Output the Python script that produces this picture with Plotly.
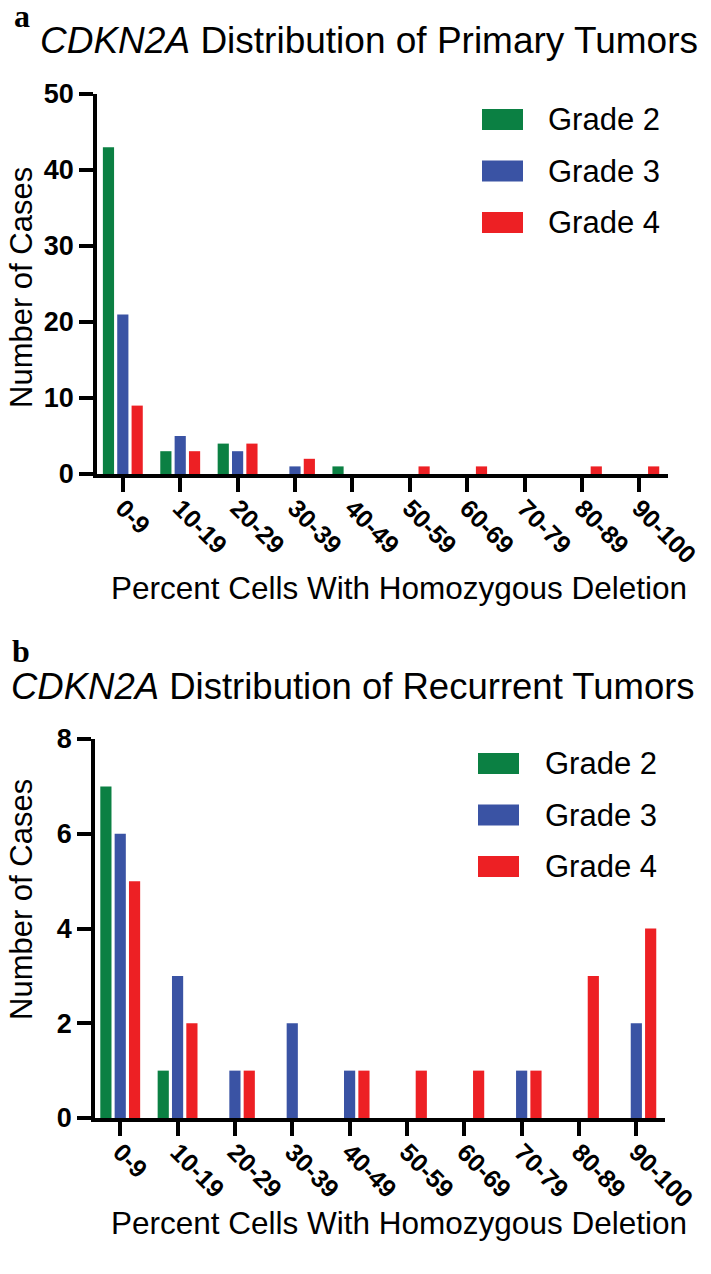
import plotly.graph_objects as go

# the page body adds an 8px margin, so the figure is drawn 8px smaller
# and every screen position below is shifted by OFF
OFF = 8
W, H = 711 - OFF, 1274 - OFF

categories = ["0-9", "10-19", "20-29", "30-39", "40-49",
              "50-59", "60-69", "70-79", "80-89", "90-100"]
grades = ["Grade 2", "Grade 3", "Grade 4"]
colors = ["#0b8043", "#3a53a4", "#ed2024"]

# primary tumors
primary_g2 = [43, 3, 4, 0, 1, 0, 0, 0, 0, 0]
primary_g3 = [21, 5, 3, 1, 0, 0, 0, 0, 0, 0]
primary_g4 = [9, 3, 4, 2, 0, 1, 1, 0, 1, 1]

# recurrent tumors
recurrent_g2 = [7, 1, 0, 0, 0, 0, 0, 0, 0, 0]
recurrent_g3 = [6, 3, 1, 2, 1, 0, 0, 1, 0, 2]
recurrent_g4 = [5, 2, 1, 0, 1, 1, 1, 1, 3, 4]

FONT = "Liberation Sans, Arial, sans-serif"
SERIF = "Liberation Serif, Times New Roman, serif"


def px(x):
    return (x - OFF) / W


def py(y):
    return 1 - (y - OFF) / H


fig = go.Figure()

panels = [
    ("x", "y", [primary_g2, primary_g3, primary_g4]),
    ("x2", "y2", [recurrent_g2, recurrent_g3, recurrent_g4]),
]
for xa, ya, series in panels:
    for name, col, vals in zip(grades, colors, series):
        fig.add_trace(go.Bar(
            x=categories, y=vals, name=name, xaxis=xa, yaxis=ya,
            marker=dict(color=col, line=dict(width=0)),
            showlegend=False,
        ))

axis_common = dict(
    showline=True, linecolor="black", linewidth=3.5,
    ticks="outside", tickcolor="black", tickwidth=3.5, ticklen=14,
    showgrid=False, zeroline=False, automargin=False,
)
xtick_font = dict(family=FONT, size=25, color="black", weight="bold")
ytick_font = dict(family=FONT, size=27, color="black", weight="bold")

fig.update_layout(
    width=W, height=H,
    margin=dict(l=0, r=0, t=0, b=0),
    plot_bgcolor="white", paper_bgcolor="white",
    barmode="group", bargap=0.25, bargroupgap=0.22,
    showlegend=False,
    xaxis=dict(**axis_common, domain=[px(97), px(668)], anchor="y",
               range=[-0.45, 9.5], tickangle=45, tickfont=xtick_font,
               ticklabelstandoff=-8),
    yaxis=dict(**axis_common, domain=[py(474), py(94)], anchor="x",
               range=[0, 50], tickvals=[0, 10, 20, 30, 40, 50], tickfont=ytick_font),
    xaxis2=dict(**axis_common, domain=[px(95), px(665)], anchor="y2",
                range=[-0.44, 9.5], tickangle=45, tickfont=xtick_font,
                ticklabelstandoff=-8),
    yaxis2=dict(**axis_common, domain=[py(1118), py(739)], anchor="x2",
                range=[0, 8], tickvals=[0, 2, 4, 6, 8], tickfont=ytick_font),
)

annotations = []
shapes = []


def text(x, y, s, size, xanchor="left", angle=0, family=FONT, yanchor="middle"):
    annotations.append(dict(
        x=px(x), y=py(y), xref="paper", yref="paper", text=s,
        showarrow=False, xanchor=xanchor, yanchor=yanchor, textangle=angle,
        font=dict(family=family, size=size, color="black"),
    ))


# panel letters and titles
text(12, -4, "<b>a</b>", 32, family=SERIF, yanchor="top")
text(38, 41, "<i>CDKN2A</i> Distribution of Primary Tumors", 37)
text(10, 651, "<b>b</b>", 32, family=SERIF)
text(9, 686, "<i>CDKN2A</i> Distribution of Recurrent Tumors", 36.5)

# axis titles
text(21, 288, "Number of Cases", 31, xanchor="center", angle=-90)
text(21, 900, "Number of Cases", 31, xanchor="center", angle=-90)
text(399, 588, "Percent Cells With Homozygous Deletion", 31.5, xanchor="center")
text(399, 1223, "Percent Cells With Homozygous Deletion", 31.5, xanchor="center")

# legends
for top, sx, tx in [(119.5, 482, 546), (763.5, 478, 543)]:
    for i, (name, col) in enumerate(zip(grades, colors)):
        cy = top + i * 51.5
        shapes.append(dict(type="rect", xref="paper", yref="paper",
                           x0=px(sx), x1=px(sx + 41), y0=py(cy + 10.5), y1=py(cy - 10.5),
                           fillcolor=col, line=dict(width=0)))
        text(tx, cy, name, 31)

fig.update_layout(annotations=annotations, shapes=shapes)

fig.write_html("out.html")
